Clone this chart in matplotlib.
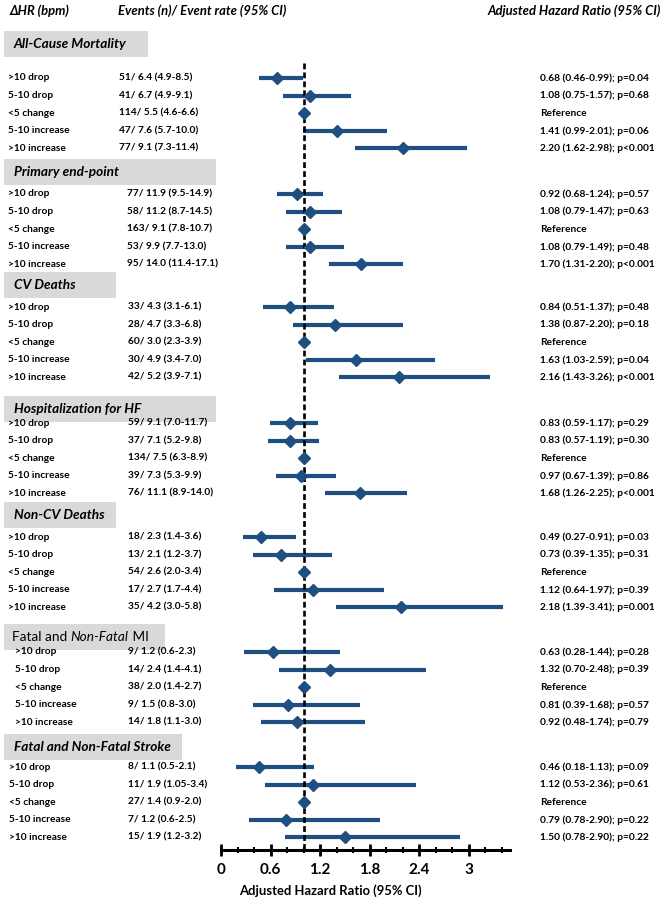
#!/usr/bin/env python
# -*- coding: utf-8 -*-

"""
心率变化 (ΔHR) 分组与各终点事件的森林图
"""

import numpy as np
import matplotlib
matplotlib.use("Agg")
import matplotlib.pyplot as plt
import matplotlib.transforms as mtransforms
from matplotlib.patches import Rectangle
from matplotlib.ticker import MultipleLocator

plt.rcParams['font.family'] = ['Lato', 'DejaVu Sans']

# ---------------- 数据 ----------------
sections = ["All-Cause Mortality", "Primary end-point", "CV Deaths",
            "Hospitalization for HF", "Non-CV Deaths",
            "Fatal and Non-Fatal MI", "Fatal and Non-Fatal Stroke"]
groups = [">10 drop", "5-10 drop", "<5 change", "5-10 increase", ">10 increase"]

events = [
    ["51/ 6.4 (4.9-8.5)", "41/ 6.7 (4.9-9.1)", "114/ 5.5 (4.6-6.6)", "47/ 7.6 (5.7-10.0)", "77/ 9.1 (7.3-11.4)"],
    ["77/ 11.9 (9.5-14.9)", "58/ 11.2 (8.7-14.5)", "163/ 9.1 (7.8-10.7)", "53/ 9.9 (7.7-13.0)", "95/ 14.0 (11.4-17.1)"],
    ["33/ 4.3 (3.1-6.1)", "28/ 4.7 (3.3-6.8)", "60/ 3.0 (2.3-3.9)", "30/ 4.9 (3.4-7.0)", "42/ 5.2 (3.9-7.1)"],
    ["59/ 9.1 (7.0-11.7)", "37/ 7.1 (5.2-9.8)", "134/ 7.5 (6.3-8.9)", "39/ 7.3 (5.3-9.9)", "76/ 11.1 (8.9-14.0)"],
    ["18/ 2.3 (1.4-3.6)", "13/ 2.1 (1.2-3.7)", "54/ 2.6 (2.0-3.4)", "17/ 2.7 (1.7-4.4)", "35/ 4.2 (3.0-5.8)"],
    ["9/ 1.2 (0.6-2.3)", "14/ 2.4 (1.4-4.1)", "38/ 2.0 (1.4-2.7)", "9/ 1.5 (0.8-3.0)", "14/ 1.8 (1.1-3.0)"],
    ["8/ 1.1 (0.5-2.1)", "11/ 1.9 (1.05-3.4)", "27/ 1.4 (0.9-2.0)", "7/ 1.2 (0.6-2.5)", "15/ 1.9 (1.2-3.2)"],
]

hr = [
    [0.68, 1.08, 1.00, 1.41, 2.20],
    [0.92, 1.08, 1.00, 1.08, 1.70],
    [0.84, 1.38, 1.00, 1.63, 2.16],
    [0.83, 0.83, 1.00, 0.97, 1.68],
    [0.49, 0.73, 1.00, 1.12, 2.18],
    [0.63, 1.32, 1.00, 0.81, 0.92],
    [0.46, 1.12, 1.00, 0.79, 1.50],
]
ci_low = [
    [0.46, 0.75, np.nan, 0.99, 1.62],
    [0.68, 0.79, np.nan, 0.79, 1.31],
    [0.51, 0.87, np.nan, 1.03, 1.43],
    [0.59, 0.57, np.nan, 0.67, 1.26],
    [0.27, 0.39, np.nan, 0.64, 1.39],
    [0.28, 0.70, np.nan, 0.39, 0.48],
    [0.18, 0.53, np.nan, 0.34, 0.78],
]
ci_high = [
    [0.99, 1.57, np.nan, 2.01, 2.98],
    [1.24, 1.47, np.nan, 1.49, 2.20],
    [1.37, 2.20, np.nan, 2.59, 3.26],
    [1.17, 1.19, np.nan, 1.39, 2.25],
    [0.91, 1.35, np.nan, 1.97, 3.41],
    [1.44, 2.48, np.nan, 1.68, 1.74],
    [1.13, 2.36, np.nan, 1.92, 2.90],
]
hr_text = [
    ["0.68 (0.46-0.99); p=0.04", "1.08 (0.75-1.57); p=0.68", "Reference", "1.41 (0.99-2.01); p=0.06", "2.20 (1.62-2.98); p<0.001"],
    ["0.92 (0.68-1.24); p=0.57", "1.08 (0.79-1.47); p=0.63", "Reference", "1.08 (0.79-1.49); p=0.48", "1.70 (1.31-2.20); p<0.001"],
    ["0.84 (0.51-1.37); p=0.48", "1.38 (0.87-2.20); p=0.18", "Reference", "1.63 (1.03-2.59); p=0.04", "2.16 (1.43-3.26); p<0.001"],
    ["0.83 (0.59-1.17); p=0.29", "0.83 (0.57-1.19); p=0.30", "Reference", "0.97 (0.67-1.39); p=0.86", "1.68 (1.26-2.25); p<0.001"],
    ["0.49 (0.27-0.91); p=0.03", "0.73 (0.39-1.35); p=0.31", "Reference", "1.12 (0.64-1.97); p=0.39", "2.18 (1.39-3.41); p=0.001"],
    ["0.63 (0.28-1.44); p=0.28", "1.32 (0.70-2.48); p=0.39", "Reference", "0.81 (0.39-1.68); p=0.57", "0.92 (0.48-1.74); p=0.79"],
    ["0.46 (0.18-1.13); p=0.09", "1.12 (0.53-2.36); p=0.61", "Reference", "0.79 (0.78-2.90); p=0.22", "1.50 (0.78-2.90); p=0.22"],
]

x_ticks = [0, 0.6, 1.2, 1.8, 2.4, 3.0]
x_ticklabels = ["0", "0.6", "1.2", "1.8", "2.4", "3"]

# ---------------- 版面 (像素, 666x900) ----------------
W, H = 666, 900
head_y = [44, 172, 285, 409, 515, 637, 747]
first_gap = [34, 22, 22, 14, 22, 15, 20]
row_step = 17.6
box_right = [148, 216, 116, 216, 116, 165, 182]
label_x = [8, 8, 8, 8, 8, 15, 9]
event_x = [119, 127, 128, 128, 128, 128, 128]
hr_x = 540
plot_left, plot_right = 221, 510
axis_y = 850

navy = '#1f4e80'
grey = '#d9d9d9'
fs_row = 7.3
fs_head = 9.8
fs_top = 9.4

fig = plt.figure(figsize=(W / 100, H / 100), dpi=100)
ax = fig.add_axes([plot_left / W, 0, (plot_right - plot_left) / W, 1])
ax.set_xlim(0, 3.5)
ax.set_ylim(H, 0)
ax.axis('off')

# x 用像素, y 用 ax 数据坐标
trans = mtransforms.blended_transform_factory(
    mtransforms.Affine2D().scale(1.0 / W, 1.0) + fig.transFigure, ax.transData)

txt = dict(transform=trans, fontsize=fs_row, fontweight='bold', va='center', ha='left')

# 表头
for x, s in [(10, "ΔHR (bpm)"), (118, "Events (n)/ Event rate (95% CI)"),
             (488, "Adjusted Hazard Ratio (95% CI)")]:
    ax.text(x, 11, s, transform=trans, fontsize=fs_top, fontweight='bold',
            style='italic', va='center', ha='left')

for s, name in enumerate(sections):
    hy = head_y[s]
    ax.add_patch(Rectangle((4, hy - 13), box_right[s] - 4, 26, transform=trans,
                           facecolor=grey, edgecolor='none', clip_on=False, zorder=0))
    if name == "Fatal and Non-Fatal MI":
        t = ax.text(12, hy, "Fatal and ", transform=trans, fontsize=fs_head,
                    va='center', ha='left')
        t = ax.annotate("Non-Fatal", xy=(1, 0), xycoords=t, fontsize=fs_head,
                        style='italic', va='bottom', ha='left')
        ax.annotate(" MI", xy=(1, 0), xycoords=t, fontsize=fs_head,
                    va='bottom', ha='left')
    else:
        ax.text(14, hy, name, transform=trans, fontsize=fs_head, fontweight='bold',
                style='italic', va='center', ha='left')

    ys = hy + first_gap[s] + row_step * np.arange(len(groups))
    lo = np.array(ci_low[s])
    hi = np.array(ci_high[s])
    ok = ~np.isnan(lo)
    ax.hlines(ys[ok], lo[ok], hi[ok], colors=navy, lw=3.0, zorder=2)
    ax.plot(hr[s], ys, linestyle='none', marker='D', markersize=6,
            color=navy, zorder=4)

    for i, g in enumerate(groups):
        ax.text(label_x[s], ys[i], g, **txt)
        ax.text(event_x[s], ys[i], events[s][i], **txt)
        ax.text(hr_x, ys[i], hr_text[s][i], **txt)

# 参考线 HR = 1
ax.vlines(1.0, 63, axis_y, colors='black', linestyles=(0, (2.2, 1.2)),
          lw=1.9, zorder=3)

# x 轴
axx = fig.add_axes([plot_left / W, 1 - axis_y / H, (plot_right - plot_left) / W, 1e-4])
axx.set_xlim(0, 3.5)
axx.patch.set_visible(False)
for sp in ['top', 'left', 'right']:
    axx.spines[sp].set_visible(False)
axx.spines['bottom'].set_linewidth(2.2)
axx.set_yticks([])
axx.set_xticks(x_ticks)
axx.set_xticklabels(x_ticklabels, fontweight='bold')
axx.xaxis.set_minor_locator(MultipleLocator(0.2))
axx.tick_params(axis='x', which='major', direction='inout', length=8, width=2,
                pad=5, labelsize=11)
axx.tick_params(axis='x', which='minor', direction='inout', length=4, width=1.5)

fig.text(330 / W, 1 - 891 / H, "Adjusted Hazard Ratio (95% CI)", fontsize=fs_top,
         fontweight='bold', ha='center', va='center')

fig.savefig("out.png", dpi=100)
